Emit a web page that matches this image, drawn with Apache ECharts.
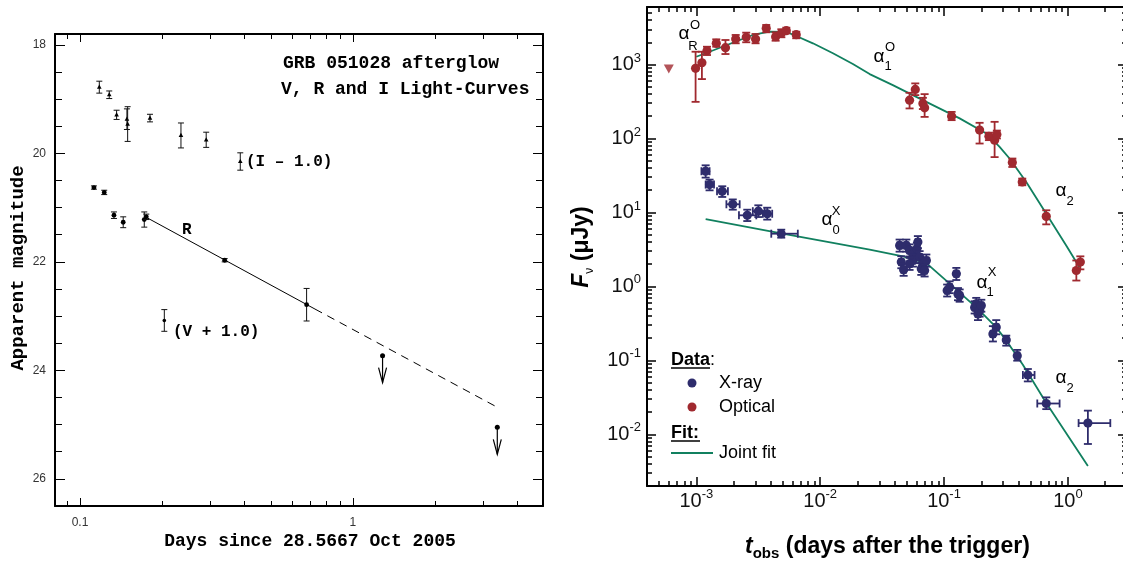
<!DOCTYPE html>
<html><head><meta charset="utf-8">
<script src="https://cdn.jsdelivr.net/npm/echarts@6/dist/echarts.min.js"></script>
<style>html,body{margin:0;padding:0;background:#fff}#c{width:1123px;height:565px}</style>
</head><body><div id="c"></div>
<script>
// ================= LEFT PANEL DATA (GRB 051028 V,R,I light curves) =================
// [days, magnitude, error]
const iBand = [
  [0.1177, 18.78, 0.11], [0.128, 18.92, 0.07], [0.1362, 19.29, 0.085],
  [0.1486, 19.37, 0.19], [0.1495, 19.46, 0.32], [0.1805, 19.35, 0.07],
  [0.2344, 19.67, 0.23], [0.290, 19.75, 0.14], [0.3866, 20.15, 0.16]
];
const rBand = [
  [0.1125, 20.63, 0.03], [0.1227, 20.72, 0.04], [0.1332, 21.14, 0.06],
  [0.144, 21.27, 0.10], [0.172, 21.22, 0.14], [0.175, 21.17, 0.05],
  [0.339, 21.97, 0.03], [0.6765, 22.79, 0.30]
];
const vBand = [[0.2037, 23.08, 0.20]];
const rUpperLimits = [[1.284, 23.73], [3.38, 25.05]];
const rFitSolid = [[0.175, 21.18], [0.726, 22.87]];
const rFitDashed = [[0.726, 22.87], [3.38, 24.68]];
const leftXMajor = [0.1, 1];
const leftYMajor = [18, 20, 22, 24, 26];
const leftYMinor = [18.5, 19, 19.5, 20.5, 21, 21.5, 22.5, 23, 23.5, 24.5, 25, 25.5];

// ================= RIGHT PANEL DATA (flux vs time) =================
// optical: [t, F, Flo, Fhi]
const optical = [
  [9.87e-4, 888, 313, 1490], [1.11e-3, 1058, 636, 1490], [1.22e-3, 1539, 1345, 1742],
  [1.45e-3, 1937, 1742, 2193], [1.72e-3, 1690, 1387, 2148], [2.08e-3, 2216, 1937, 2512],
  [2.53e-3, 2337, 2000, 2700], [3.01e-3, 2216, 1937, 2590], [3.67e-3, 3094, 2730, 3430],
  [4.37e-3, 2383, 2100, 2730], [4.86e-3, 2648, 2337, 3000], [5.33e-3, 2871, 2648, 3153],
  [6.41e-3, 2535, 2265, 2782],
  [0.0527, 330, 255, 415], [0.0586, 461, 386, 556], [0.0675, 298, 250, 355],
  [0.0697, 260, 196, 398], [0.1151, 200, 177, 229], [0.1937, 130, 85.5, 163],
  [0.2303, 107, 95, 120], [0.256, 95, 56, 168], [0.267, 113, 100, 128],
  [0.356, 47.3, 41.2, 53.6], [0.428, 25.8, 23.3, 28.7], [0.669, 8.85, 6.9, 10.7],
  [1.17, 1.64, 1.2, 2.24], [1.26, 2.13, 1.7, 2.55]
];
const opticalLimit = [[6.0e-4, 869]];
// x-ray: [t, F, Flo, Fhi, tlo, thi]
const xray = [
  [1.19e-3, 36.1, 29.6, 43.4, 1.10e-3, 1.28e-3], [1.28e-3, 23.8, 19.9, 27.8, 1.19e-3, 1.39e-3],
  [1.62e-3, 19.3, 16.2, 22.6, 1.47e-3, 1.80e-3], [1.97e-3, 12.9, 10.9, 15.0, 1.75e-3, 2.24e-3],
  [2.58e-3, 9.15, 7.65, 10.9, 2.21e-3, 3.05e-3], [3.17e-3, 10.4, 8.67, 12.5, 2.86e-3, 3.56e-3],
  [3.74e-3, 9.6, 8.0, 11.6, 3.45e-3, 4.10e-3], [4.85e-3, 5.16, 4.56, 5.85, 4.03e-3, 6.6e-3],
  [0.0438, 3.58, 2.95, 4.3, 0.0420, 0.0457], [0.0496, 3.58, 2.95, 4.3, 0.0476, 0.0517],
  [0.0452, 2.13, 1.76, 2.56, 0.0434, 0.0471], [0.0472, 1.68, 1.39, 2.02, 0.0453, 0.0492],
  [0.0527, 3.07, 2.54, 3.7, 0.0506, 0.0549], [0.0561, 2.77, 2.29, 3.33, 0.0538, 0.0585],
  [0.0561, 2.24, 1.85, 2.7, 0.0538, 0.0585], [0.0527, 2.02, 1.67, 2.43, 0.0506, 0.0549],
  [0.0604, 3.24, 2.68, 3.9, 0.0580, 0.0630], [0.0615, 3.98, 3.29, 4.79, 0.0590, 0.0641],
  [0.0635, 2.49, 2.06, 3.0, 0.0609, 0.0662], [0.0675, 2.02, 1.67, 2.43, 0.0648, 0.0704],
  [0.0655, 1.73, 1.43, 2.08, 0.0629, 0.0683], [0.072, 2.24, 1.85, 2.7, 0.0691, 0.0751],
  [0.0697, 1.64, 1.36, 1.97, 0.0669, 0.0727],
  [0.106, 0.88, 0.73, 1.06, 0.102, 0.110], [0.111, 0.975, 0.81, 1.17, 0.107, 0.116],
  [0.1257, 1.48, 1.22, 1.78, 0.121, 0.131], [0.1296, 0.79, 0.65, 0.95, 0.124, 0.135],
  [0.1337, 0.753, 0.62, 0.91, 0.128, 0.139],
  [0.1767, 0.52, 0.43, 0.63, 0.170, 0.184], [0.182, 0.58, 0.48, 0.70, 0.175, 0.190],
  [0.188, 0.425, 0.35, 0.51, 0.180, 0.196], [0.1937, 0.471, 0.39, 0.57, 0.186, 0.202],
  [0.200, 0.55, 0.455, 0.66, 0.192, 0.208],
  [0.248, 0.228, 0.18, 0.29, 0.238, 0.258], [0.264, 0.28, 0.225, 0.35, 0.253, 0.275],
  [0.318, 0.189, 0.158, 0.216, 0.305, 0.331], [0.39, 0.1158, 0.099, 0.1384, 0.374, 0.406],
  [0.475, 0.0634, 0.0519, 0.0764, 0.433, 0.538], [0.669, 0.0261, 0.0219, 0.0316, 0.566, 0.857],
  [1.45, 0.01419, 0.0074, 0.0209, 1.22, 2.2]
];
const opticalFit = [
  [1.0e-3, 1276], [1.28e-3, 1490], [1.97e-3, 1972], [2.86e-3, 2510], [3.9e-3, 2782],
  [5.33e-3, 2760], [6.41e-3, 2432], [8.74e-3, 1937], [0.01268, 1419], [0.01837, 1016],
  [0.0251, 743], [0.0386, 527], [0.0719, 313], [0.1337, 187], [0.2194, 117], [0.281, 77],
  [0.338, 53.6], [0.461, 25.8], [0.669, 9.6], [0.969, 3.58], [1.24, 1.82]
];
const xrayFit = [
  [1.19e-3, 8.14], [4.85e-3, 5.2], [0.0251, 3.15], [0.0466, 2.55], [0.072, 2.06],
  [0.1075, 1.14], [0.1877, 0.497], [0.264, 0.28], [0.318, 0.185], [0.433, 0.087],
  [0.669, 0.0265], [1.45, 0.00374]
];
const rightXMajor = [1e-3, 1e-2, 1e-1, 1];
const rightYMajor = [1e-2, 1e-1, 1, 10, 100, 1000];

// ================= STYLE =================
const SANS = '"Liberation Sans", Arial, Helvetica, sans-serif';
const MONO = '"Liberation Mono", "DejaVu Sans Mono", monospace';
const RED = '#a0292f', NAVY = '#2e2c6c', GREEN = '#11805f';

function minorLogTicks(lo, hi) {
  const out = [];
  for (let e = Math.floor(Math.log10(lo)); e <= Math.ceil(Math.log10(hi)); e++)
    for (let k = 2; k <= 9; k++) {
      const v = +(k * Math.pow(10, e)).toPrecision(6);
      if (v > lo * 1.0001 && v < hi * 0.9999) out.push(v);
    }
  return out;
}
const LX = [0.081, 4.97], LY = [17.8, 26.5], RX = [4e-4, 3], RY = [2e-3, 6e3];
const leftXMinor = minorLogTicks(LX[0], LX[1]);
const rightXMinor = minorLogTicks(RX[0], RX[1]);
const rightYMinor = minorLogTicks(RY[0], RY[1]);

function ax(o) {
  const a = {
    type: o.type, gridIndex: o.grid, position: o.pos, min: o.range[0], max: o.range[1],
    inverse: !!o.inverse, silent: true,
    axisLine: { show: !!o.line, onZero: false, lineStyle: { color: '#000', width: 2 } },
    axisTick: { show: true, inside: true, length: o.len, customValues: o.ticks,
      lineStyle: { color: '#000', width: o.tw || 1 } },
    axisLabel: o.label || { show: false },
    splitLine: { show: false }, minorTick: { show: false }, minorSplitLine: { show: false }
  };
  if (o.type === 'log') a.logBase = 10;
  return a;
}
const leftXLabel = { show: true, customValues: leftXMajor, margin: 11, color: '#333',
  fontFamily: SANS, fontSize: 12, formatter: v => String(+v.toPrecision(3)) };
const leftYLabel = { show: true, customValues: leftYMajor, margin: 9, color: '#333',
  fontFamily: SANS, fontSize: 12 };
const powRich = {
  b: { fontFamily: SANS, fontSize: 20, color: '#111', lineHeight: 26 },
  s: { fontFamily: SANS, fontSize: 13, color: '#111', lineHeight: 12, verticalAlign: 'top' }
};
const powFmt = v => '{b|10}{s|' + Math.round(Math.log10(v)) + '}';
const rightXLabel = { show: true, customValues: rightXMajor, margin: 2, formatter: powFmt, rich: powRich };
const rightYLabel = { show: true, customValues: rightYMajor, margin: 6, formatter: powFmt, rich: powRich };

const xAxes = [
  ax({ type: 'log', grid: 0, pos: 'bottom', range: LX, line: true, ticks: leftXMajor, len: 8, label: leftXLabel }),
  ax({ type: 'log', grid: 0, pos: 'bottom', range: LX, ticks: leftXMinor, len: 5 }),
  ax({ type: 'log', grid: 0, pos: 'top', range: LX, line: true, ticks: leftXMajor, len: 8 }),
  ax({ type: 'log', grid: 0, pos: 'top', range: LX, ticks: leftXMinor, len: 5 }),
  ax({ type: 'log', grid: 1, pos: 'bottom', range: RX, line: true, ticks: rightXMajor, len: 9, tw: 1.5, label: rightXLabel }),
  ax({ type: 'log', grid: 1, pos: 'bottom', range: RX, ticks: rightXMinor, len: 5, tw: 1.5 }),
  ax({ type: 'log', grid: 1, pos: 'top', range: RX, line: true, ticks: rightXMajor, len: 9, tw: 1.5 }),
  ax({ type: 'log', grid: 1, pos: 'top', range: RX, ticks: rightXMinor, len: 5, tw: 1.5 })
];
const yAxes = [
  ax({ type: 'value', grid: 0, pos: 'left', range: LY, inverse: true, line: true, ticks: leftYMajor, len: 10, label: leftYLabel }),
  ax({ type: 'value', grid: 0, pos: 'left', range: LY, inverse: true, ticks: leftYMinor, len: 7 }),
  ax({ type: 'value', grid: 0, pos: 'right', range: LY, inverse: true, line: true, ticks: leftYMajor, len: 10 }),
  ax({ type: 'value', grid: 0, pos: 'right', range: LY, inverse: true, ticks: leftYMinor, len: 7 }),
  ax({ type: 'log', grid: 1, pos: 'left', range: RY, line: true, ticks: rightYMajor, len: 9, tw: 1.5, label: rightYLabel }),
  ax({ type: 'log', grid: 1, pos: 'left', range: RY, ticks: rightYMinor, len: 5, tw: 1.5 }),
  ax({ type: 'log', grid: 1, pos: 'right', range: RY, line: true, ticks: rightYMajor, len: 9, tw: 1.5 }),
  ax({ type: 'log', grid: 1, pos: 'right', range: RY, ticks: rightYMinor, len: 5, tw: 1.5 })
];

// ---------- renderers ----------
const ln = (x1, y1, x2, y2, color, w) => ({ type: 'line', shape: { x1, y1, x2, y2 }, style: { stroke: color, lineWidth: w } });
function leftRenderer(marker) {
  return function (params, api) {
    const x = api.value(0), m = api.value(1), e = api.value(2);
    const c = api.coord([x, m]), a = api.coord([x, m - e]), b = api.coord([x, m + e]);
    const k = 3, col = '#111';
    const ch = [ln(c[0], a[1], c[0], b[1], col, 1), ln(c[0] - k, a[1], c[0] + k, a[1], col, 1), ln(c[0] - k, b[1], c[0] + k, b[1], col, 1)];
    if (marker === 'tri') ch.push({ type: 'polygon', shape: { points: [[c[0], c[1] - 2.6], [c[0] - 2.3, c[1] + 1.6], [c[0] + 2.3, c[1] + 1.6]] }, style: { fill: '#000' } });
    else ch.push({ type: 'circle', shape: { cx: c[0], cy: c[1], r: marker === 'dot' ? 2.4 : 1.8 }, style: { fill: '#000' } });
    return { type: 'group', children: ch };
  };
}
function limitRenderer(params, api) {
  const c = api.coord([api.value(0), api.value(1)]);
  const col = '#000';
  return { type: 'group', children: [
    { type: 'circle', shape: { cx: c[0], cy: c[1], r: 2.5 }, style: { fill: col } },
    ln(c[0], c[1], c[0], c[1] + 27, col, 1.2),
    { type: 'polyline', shape: { points: [[c[0] - 4, c[1] + 12], [c[0], c[1] + 27], [c[0] + 4, c[1] + 12]] }, style: { stroke: col, lineWidth: 1.2, fill: null } }
  ] };
}
function rightRenderer(color, hasX) {
  return function (params, api) {
    const t = api.value(0), f = api.value(1);
    const c = api.coord([t, f]);
    const lo = api.coord([t, api.value(2)]), hi = api.coord([t, api.value(3)]);
    const k = 4, w = 1.8;
    const ch = [ln(c[0], lo[1], c[0], hi[1], color, w), ln(c[0] - k, lo[1], c[0] + k, lo[1], color, w), ln(c[0] - k, hi[1], c[0] + k, hi[1], color, w)];
    if (hasX) {
      const l = api.coord([api.value(4), f]), r = api.coord([api.value(5), f]);
      ch.push(ln(l[0], c[1], r[0], c[1], color, w), ln(l[0], c[1] - k, l[0], c[1] + k, color, w), ln(r[0], c[1] - k, r[0], c[1] + k, color, w));
    }
    ch.push({ type: 'circle', shape: { cx: c[0], cy: c[1], r: 4.6 }, style: { fill: color } });
    return { type: 'group', children: ch };
  };
}

// ---------- annotation texts ----------
function txt(x, y, text, font, opt) {
  opt = opt || {};
  return { type: 'text', x, y, rotation: opt.rot || 0, silent: true, z: 100,
    style: { text, font, fill: opt.fill || '#000', align: opt.align || 'left', verticalAlign: 'middle',
      textAlign: opt.align || 'left', textVerticalAlign: 'middle', rich: opt.rich } };
}
const bm18 = 'bold 18px ' + MONO, bm16 = 'bold 16px ' + MONO;
const aF = '19px ' + SANS, sF = '13px ' + SANS;
function alpha(x, y, sup, sub) {
  const out = [txt(x, y - 2, 'α', aF, { align: 'center' })];
  if (sup) out.push(txt(sup[0], sup[1], sup[2], sF, { align: 'center' }));
  if (sub) out.push(txt(sub[0], sub[1], sub[2], sF, { align: 'center' }));
  return out;
}
const graphics = [
  txt(283, 63, 'GRB 051028 afterglow', bm18),
  txt(281, 89, 'V, R and I Light-Curves', bm18),
  txt(246, 162, '(I – 1.0)', bm16),
  txt(173, 332, '(V + 1.0)', bm16),
  txt(182, 230, 'R', bm16),
  txt(310, 541, 'Days since 28.5667 Oct 2005', bm18, { align: 'center' }),
  txt(18, 268, 'Apparent magnitude', 'bold 19px ' + MONO, { align: 'center', rot: Math.PI / 2 }),
  // right axis titles
  txt(745, 547, '{t|t}{o|obs}{m| (days after the trigger)}', 'bold 23px ' + SANS, { rich: {
    t: { font: 'italic bold 23px ' + SANS, lineHeight: 28 },
    o: { font: 'bold 15px ' + SANS, lineHeight: 14, verticalAlign: 'bottom' },
    m: { font: 'bold 23px ' + SANS, lineHeight: 28 } } }),
  txt(582, 247, '{f|F}{n|ν}{m| (μJy)}', 'bold 23px ' + SANS, { align: 'center', rot: Math.PI / 2, rich: {
    f: { font: 'italic bold 23px ' + SANS, lineHeight: 28 },
    n: { font: '12px ' + SANS, lineHeight: 12, verticalAlign: 'bottom' },
    m: { font: 'bold 23px ' + SANS, lineHeight: 28 } } }),
  // legend
  txt(671, 360, '{b|Data}{n|:}', '18px ' + SANS, { rich: { b: { font: 'bold 18px ' + SANS }, n: { font: '18px ' + SANS } } }),
  { type: 'line', silent: true, shape: { x1: 671, y1: 368, x2: 710, y2: 368 }, style: { stroke: '#000', lineWidth: 1.5 } },
  { type: 'circle', silent: true, shape: { cx: 692, cy: 383, r: 4.5 }, style: { fill: NAVY } },
  txt(719, 383, 'X-ray', '18px ' + SANS),
  { type: 'circle', silent: true, shape: { cx: 692, cy: 407, r: 4.5 }, style: { fill: RED } },
  txt(719, 407, 'Optical', '18px ' + SANS),
  txt(671, 433, 'Fit:', 'bold 18px ' + SANS),
  { type: 'line', silent: true, shape: { x1: 671, y1: 441, x2: 700, y2: 441 }, style: { stroke: '#000', lineWidth: 1.5 } },
  { type: 'line', silent: true, shape: { x1: 671, y1: 453, x2: 713, y2: 453 }, style: { stroke: GREEN, lineWidth: 1.8 } },
  txt(719, 453, 'Joint fit', '18px ' + SANS)
].concat(
  alpha(684, 36, [695, 25, 'O'], [693, 46, 'R']),
  alpha(879, 59, [890, 47, 'O'], [888, 66, '1']),
  alpha(1061, 193, null, [1070, 201, '2']),
  alpha(827, 222, [836, 211, 'X'], [836, 230, '0']),
  alpha(982, 285, [992, 272, 'X'], [990, 292, '1']),
  alpha(1061, 380, null, [1070, 388, '2'])
);

const chart = echarts.init(document.getElementById('c'), null, { renderer: 'canvas' });
chart.setOption({
  animation: false,
  backgroundColor: '#fff',
  grid: [
    { left: 55, top: 34, width: 488, height: 472, containLabel: false, outerBoundsMode: 'none' },
    { left: 647, top: 7, width: 480, height: 479, containLabel: false, outerBoundsMode: 'none' }
  ],
  xAxis: xAxes,
  yAxis: yAxes,
  series: [
    { type: 'line', xAxisIndex: 0, yAxisIndex: 0, data: rFitSolid, showSymbol: false, silent: true,
      lineStyle: { color: '#000', width: 1 }, z: 2 },
    { type: 'line', xAxisIndex: 0, yAxisIndex: 0, data: rFitDashed, showSymbol: false, silent: true,
      lineStyle: { color: '#000', width: 1, type: [8, 6] }, z: 2 },
    { type: 'custom', xAxisIndex: 0, yAxisIndex: 0, data: iBand, renderItem: leftRenderer('tri'), encode: { x: 0, y: 1 }, silent: true, z: 3 },
    { type: 'custom', xAxisIndex: 0, yAxisIndex: 0, data: rBand, renderItem: leftRenderer('dot'), encode: { x: 0, y: 1 }, silent: true, z: 3 },
    { type: 'custom', xAxisIndex: 0, yAxisIndex: 0, data: vBand, renderItem: leftRenderer('small'), encode: { x: 0, y: 1 }, silent: true, z: 3 },
    { type: 'custom', xAxisIndex: 0, yAxisIndex: 0, data: rUpperLimits, renderItem: limitRenderer, encode: { x: 0, y: 1 }, silent: true, z: 3 },

    { type: 'line', xAxisIndex: 4, yAxisIndex: 4, data: opticalFit, showSymbol: false, silent: true,
      lineStyle: { color: GREEN, width: 1.8 }, z: 2 },
    { type: 'line', xAxisIndex: 4, yAxisIndex: 4, data: xrayFit, showSymbol: false, silent: true,
      lineStyle: { color: GREEN, width: 1.8 }, z: 2 },
    { type: 'custom', xAxisIndex: 4, yAxisIndex: 4, data: optical, renderItem: rightRenderer(RED, false), encode: { x: 0, y: 1 }, silent: true, z: 3 },
    { type: 'custom', xAxisIndex: 4, yAxisIndex: 4, data: xray, renderItem: rightRenderer(NAVY, true), encode: { x: 0, y: 1 }, silent: true, z: 3 },
    { type: 'scatter', xAxisIndex: 4, yAxisIndex: 4, data: opticalLimit, symbol: 'triangle', symbolRotate: 180,
      symbolSize: [10, 9], itemStyle: { color: RED }, silent: true, z: 3 }
  ],
  graphic: graphics
});
</script>
</body></html>
